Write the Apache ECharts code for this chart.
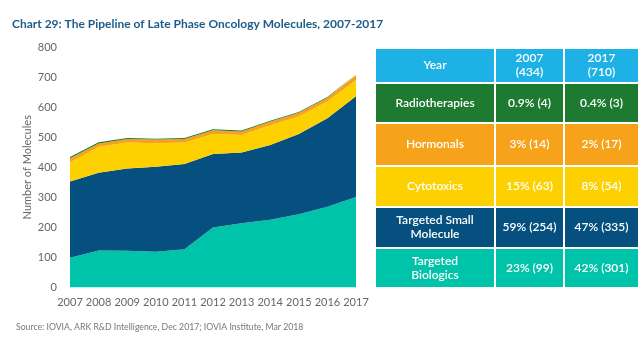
<!DOCTYPE html>
<html>
<head>
<meta charset="utf-8">
<script src="https://cdn.jsdelivr.net/npm/echarts@6/dist/echarts.min.js"></script>
<style>html,body{margin:0;padding:0;background:#fff}#c{width:640px;height:356px}</style>
</head>
<body>
<div id="c"></div>
<script>
var years = ['2007','2008','2009','2010','2011','2012','2013','2014','2015','2016','2017'];
var targetedBiologics = [99,123,122,119,127,200,214,225,244,269,301];
var targetedSmall = [254,259,274,283,284,244,235,249,267,294,335];
var cytotoxics = [63,85,86,78,71,67,58,66,58,56,54];
var hormonals = [14,12,12,12,12,12,12,12,12,12,17];
var radiotherapies = [4,4,3,3,3,3,3,3,3,3,3];

var tableHeader = ['Year', '2007\n(434)', '2017\n(710)'];
var tableCategories = ['Radiotherapies', 'Hormonals', 'Cytotoxics', 'Targeted Small\nMolecule', 'Targeted\nBiologics'];
var table2007 = ['0.9% (4)', '3% (14)', '15% (63)', '59% (254)', '23% (99)'];
var table2017 = ['0.4% (3)', '2% (17)', '8% (54)', '47% (335)', '42% (301)'];

var colors = {
  bio: '#00c4a9', small: '#06507f', cyto: '#fdd000', horm: '#f6a31b', radio: '#1e7a31', header: '#1eb1e6'
};
var rowColors = [colors.radio, colors.horm, colors.cyto, colors.small, colors.bio];

var chart = echarts.init(document.getElementById('c'));
var font = 'Lato, "Open Sans", sans-serif';

function mk(name, data, color) {
  return {
    name: name, type: 'line', stack: 'total', data: data, symbol: 'none',
    lineStyle: { width: 0 }, areaStyle: { color: color, opacity: 1 }, itemStyle: { color: color }
  };
}

var g = [];
var colX = [376, 496, 565];
var colW = [118, 67, 73];
var rowY = [49, 84, 124, 167, 208, 249];
var rowH = [33, 38, 41, 39, 39, 38];
function cell(x, y, w, h, fill, txt) {
  g.push({ type: 'rect', shape: { x: x, y: y, width: w, height: h }, style: { fill: fill }, silent: true });
  g.push({ type: 'text', x: x + w / 2, y: y + h / 2, style: {
    text: txt, fill: '#ffffff', font: '600 12px ' + font, textAlign: 'center', textVerticalAlign: 'middle', lineHeight: 14
  }, silent: true });
}
for (var c = 0; c < 3; c++) cell(colX[c], rowY[0], colW[c], rowH[0], colors.header, tableHeader[c]);
for (var r = 0; r < tableCategories.length; r++) {
  cell(colX[0], rowY[r + 1], colW[0], rowH[r + 1], rowColors[r], tableCategories[r]);
  cell(colX[1], rowY[r + 1], colW[1], rowH[r + 1], rowColors[r], table2007[r]);
  cell(colX[2], rowY[r + 1], colW[2], rowH[r + 1], rowColors[r], table2017[r]);
}
g.push({ type: 'text', left: 16, top: 323, style: {
  text: 'Source: IOVIA, ARK R&D Intelligence, Dec 2017; IOVIA Institute, Mar 2018', fill: '#777', font: '8.7px ' + font
}});

chart.setOption({
  animation: false,
  title: {
    text: 'Chart 29: The Pipeline of Late Phase Oncology Molecules, 2007-2017',
    left: 7, top: 13,
    textStyle: { color: '#1c5c8a', fontFamily: font, fontSize: 12, fontWeight: 'bold' }
  },
  grid: { left: 70, right: 284, top: 47, bottom: 68.5 },
  xAxis: {
    type: 'category', data: years, boundaryGap: false,
    axisLine: { show: false }, axisTick: { show: false },
    axisLabel: { color: '#666', fontFamily: font, fontSize: 11, margin: 9, interval: 0, hideOverlap: false }
  },
  yAxis: {
    type: 'value', min: 0, max: 800, interval: 100,
    name: 'Number of Molecules', nameLocation: 'middle', nameGap: 37,
    nameTextStyle: { color: '#666', fontFamily: font, fontSize: 11 },
    axisLine: { show: false }, axisTick: { show: false }, splitLine: { show: false },
    axisLabel: { color: '#666', fontFamily: font, fontSize: 11, margin: 13 }
  },
  series: [
    mk('Targeted Biologics', targetedBiologics, colors.bio),
    mk('Targeted Small Molecule', targetedSmall, colors.small),
    mk('Cytotoxics', cytotoxics, colors.cyto),
    mk('Hormonals', hormonals, colors.horm),
    mk('Radiotherapies', radiotherapies, colors.radio)
  ],
  graphic: g
});
</script>
</body>
</html>
